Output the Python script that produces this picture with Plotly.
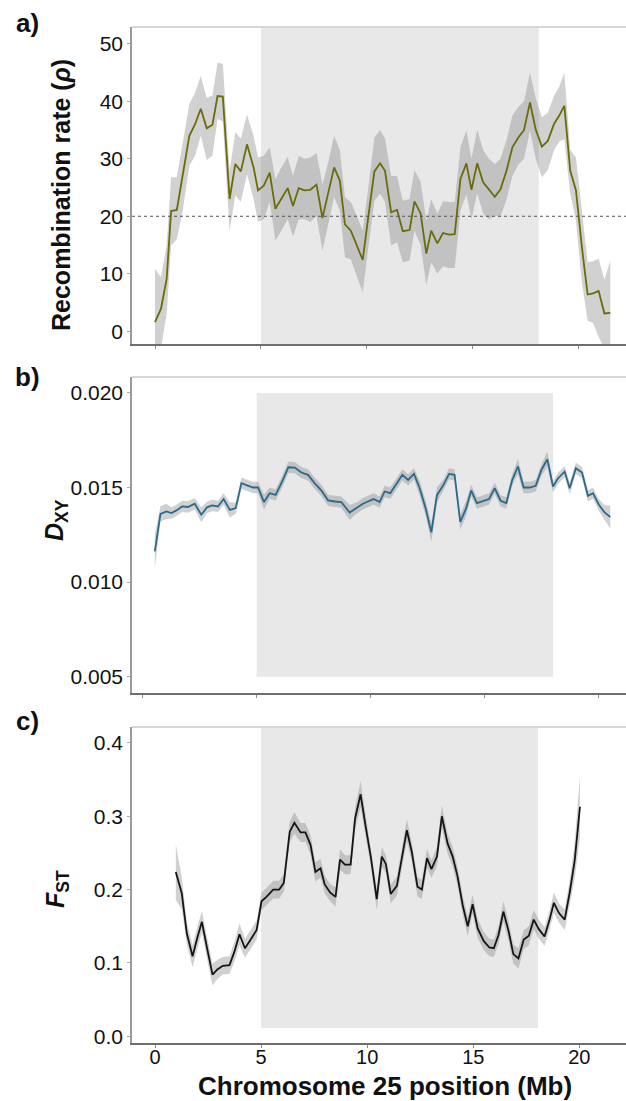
import plotly.graph_objects as go

# ---------------- data ----------------
# Panel a: recombination rate (rho)
pos_a = [0.00,0.28,0.55,0.76,1.03,1.31,1.62,1.89,2.16,2.44,
         2.71,2.95,3.20,3.52,3.79,4.05,4.34,4.65,4.86,5.13,
         5.41,5.68,5.96,6.26,6.51,6.78,7.05,7.33,7.62,7.90,
         8.18,8.45,8.72,8.96,9.24,9.53,9.80,10.08,10.35,10.62,
         10.85,11.14,11.42,11.69,12.01,12.24,12.53,12.80,13.03,13.32,
         13.59,13.87,14.14,14.41,14.69,14.93,15.20,15.48,15.75,16.03,
         16.30,16.59,16.86,17.14,17.41,17.69,17.96,18.25,18.53,18.83,
         19.07,19.31,19.59,19.86,20.14,20.41,20.66,20.93,21.20,21.48]
rho = [1.6,3.9,9.1,20.9,21.1,27.0,34.0,36.0,38.7,35.3,
       35.9,40.9,40.8,23.0,29.1,27.8,32.5,28.5,24.5,25.3,
       27.6,21.3,23.0,24.9,21.8,24.9,24.5,24.6,25.5,19.7,
       24.2,28.5,26.2,18.6,17.5,14.9,12.4,20.4,27.8,29.2,
       27.9,20.7,21.1,17.4,17.6,22.6,20.5,13.5,17.5,15.3,
       17.1,16.8,16.9,26.5,29.2,24.6,29.2,25.9,24.7,23.4,
       24.7,28.0,32.0,33.7,35.0,39.8,35.1,32.1,33.1,36.1,
       37.5,39.2,27.9,24.5,14.6,6.4,6.6,7.0,3.1,3.2]
rho_hi = [10.9,9.4,15.0,26.8,26.8,33.0,39.5,41.5,44.4,40.6,
          41.0,46.7,46.5,27.9,34.6,33.5,37.7,34.0,30.2,30.5,
          32.0,26.5,28.5,30.3,27.0,30.5,30.0,30.2,31.0,25.5,
          29.5,34.0,31.5,23.3,22.5,20.0,17.5,25.5,33.7,35.0,
          33.5,27.0,27.0,22.7,23.0,28.0,26.0,19.2,23.0,20.5,
          22.6,22.5,22.5,32.0,34.9,30.0,35.1,31.5,30.0,29.1,
          30.0,33.3,37.5,39.0,40.0,45.0,40.5,37.2,38.0,41.0,
          42.5,45.0,31.5,30.2,21.0,12.0,12.2,12.6,9.0,12.3]
rho_lo = [-3.0,-3.0,3.0,14.9,16.0,21.0,28.8,30.5,34.0,29.8,
          30.5,36.9,36.5,17.5,23.6,22.5,27.3,23.0,19.0,19.5,
          22.5,15.8,17.5,19.5,16.5,19.5,19.5,19.0,20.0,14.0,
          19.0,23.3,21.0,12.9,12.5,9.5,6.8,15.0,22.7,23.9,
          22.5,14.9,15.5,12.0,12.3,17.5,15.0,8.0,12.0,10.0,
          11.3,11.0,11.0,21.0,23.8,19.5,24.0,20.5,19.5,20.1,
          20.0,23.0,27.0,29.0,30.0,34.9,30.0,26.8,28.0,31.5,
          33.0,33.4,24.0,19.2,8.5,1.8,1.5,-1.0,-3.0,-3.0]

# Panel b: DXY
pos_b = [0.53,0.78,1.04,1.26,1.48,1.73,1.99,2.28,2.57,2.82,
         3.04,3.30,3.55,3.82,4.08,4.33,4.58,4.84,5.06,5.32,
         5.57,5.83,6.12,6.39,6.67,6.96,7.25,7.54,7.84,8.13,
         8.43,8.71,9.08,9.37,9.66,9.88,10.13,10.39,10.61,10.86,
         11.13,11.39,11.64,11.90,12.15,12.41,12.66,12.91,13.17,13.44,
         13.68,13.93,14.19,14.41,14.66,14.93,15.19,15.44,15.70,15.95,
         16.20,16.46,16.71,16.97,17.24,17.49,17.75,18.00,18.22,18.51,
         18.73,19.00,19.27,19.53,19.75,20.01,20.26,20.51]
dxy = [0.01163,0.01361,0.01374,0.01365,0.01379,0.01400,0.01397,0.01414,0.01356,0.01395,
       0.01405,0.01400,0.01439,0.01382,0.01391,0.01523,0.01511,0.01500,0.01500,0.01423,
       0.01470,0.01461,0.01532,0.01607,0.01605,0.01579,0.01567,0.01523,0.01484,0.01432,
       0.01426,0.01423,0.01368,0.01391,0.01414,0.01426,0.01439,0.01423,0.01479,0.01470,
       0.01519,0.01567,0.01540,0.01572,0.01496,0.01391,0.01263,0.01461,0.01509,0.01572,
       0.01567,0.01318,0.01391,0.01484,0.01418,0.01430,0.01439,0.01496,0.01430,0.01418,
       0.01537,0.01611,0.01500,0.01500,0.01509,0.01593,0.01649,0.01505,0.01549,0.01584,
       0.01496,0.01602,0.01579,0.01456,0.01470,0.01409,0.01368,0.01344]
dxy_err = [0.0009,0.0004,0.0004,0.0003,0.0003,0.0003,0.0003,0.0003,0.0004,0.0003,
           0.0003,0.0003,0.0003,0.0004,0.0003,0.0003,0.0003,0.0003,0.0003,0.0004,
           0.0003,0.0003,0.0003,0.0003,0.0003,0.0003,0.0003,0.0003,0.0003,0.0003,
           0.0003,0.0003,0.0004,0.0003,0.0003,0.0003,0.0003,0.0003,0.0003,0.0003,
           0.0003,0.0003,0.0003,0.0003,0.0004,0.0004,0.0005,0.0004,0.0003,0.0003,
           0.0003,0.0004,0.0004,0.0003,0.0003,0.0003,0.0003,0.0003,0.0003,0.0003,
           0.0003,0.0004,0.0003,0.0003,0.0003,0.0003,0.0004,0.0003,0.0003,0.0003,
           0.0003,0.0003,0.0003,0.0003,0.0003,0.0003,0.0004,0.0006]

# Panel c: FST
pos_c = [0.98,1.26,1.50,1.77,2.00,2.21,2.44,2.71,2.94,3.19,
         3.51,3.74,3.98,4.24,4.51,4.79,5.02,5.25,5.57,5.85,
         6.07,6.35,6.57,6.86,7.09,7.33,7.56,7.80,8.00,8.25,
         8.51,8.72,8.95,9.22,9.43,9.69,9.93,10.17,10.45,10.69,
         10.88,11.11,11.40,11.62,11.87,12.10,12.37,12.58,12.82,13.03,
         13.29,13.52,13.79,14.03,14.26,14.50,14.74,14.97,15.21,15.49,
         15.76,15.97,16.19,16.42,16.66,16.89,17.13,17.38,17.62,17.85,
         18.09,18.36,18.59,18.80,19.04,19.31,19.54,19.78,20.03]
fst = [0.224,0.195,0.140,0.109,0.135,0.156,0.122,0.084,0.091,0.096,
       0.097,0.115,0.139,0.120,0.132,0.145,0.184,0.190,0.200,0.200,
       0.209,0.279,0.291,0.278,0.278,0.261,0.224,0.229,0.207,0.196,
       0.190,0.241,0.234,0.234,0.297,0.330,0.286,0.245,0.187,0.245,
       0.235,0.194,0.205,0.241,0.281,0.252,0.204,0.200,0.243,0.228,
       0.245,0.300,0.263,0.245,0.218,0.179,0.150,0.180,0.147,0.130,
       0.121,0.120,0.138,0.170,0.144,0.112,0.106,0.132,0.137,0.159,
       0.146,0.136,0.158,0.182,0.168,0.159,0.195,0.239,0.313]
fst_err = [0.038,0.022,0.015,0.015,0.015,0.015,0.015,0.015,0.013,0.012,
           0.012,0.013,0.015,0.013,0.013,0.013,0.012,0.012,0.012,0.012,
           0.012,0.014,0.015,0.013,0.013,0.013,0.013,0.013,0.012,0.012,
           0.013,0.014,0.013,0.013,0.015,0.018,0.015,0.013,0.015,0.013,
           0.012,0.013,0.013,0.013,0.015,0.013,0.013,0.013,0.013,0.012,
           0.013,0.015,0.014,0.013,0.013,0.013,0.013,0.013,0.013,0.012,
           0.012,0.012,0.012,0.014,0.013,0.013,0.014,0.013,0.013,0.013,
           0.013,0.013,0.013,0.014,0.013,0.014,0.016,0.025,0.042]

x_ticks = [0, 5, 10, 15, 20]
ticks_a = [0, 10, 20, 30, 40, 50]
ticks_b = [0.005, 0.010, 0.015, 0.020]
ticklabels_b = ["0.005", "0.010", "0.015", "0.020"]
ticks_c = [0.0, 0.1, 0.2, 0.3, 0.4]
ticklabels_c = ["0.0", "0.1", "0.2", "0.3", "0.4"]
region_a = (5.0, 18.1)
region_b = (5.0, 18.0)
region_c = (5.0, 18.05)
rho_threshold = 20

# ---------------- figure ----------------
FONT = "Liberation Sans, Arial, Helvetica, sans-serif"
BAND = "rgba(128,128,128,0.36)"
fig = go.Figure()

def band(x, hi, lo, xa, ya):
    fig.add_trace(go.Scatter(x=list(x) + list(x)[::-1], y=list(hi) + list(lo)[::-1],
                             fill="toself", fillcolor=BAND, line=dict(width=0),
                             mode="lines", hoverinfo="skip", showlegend=False,
                             xaxis=xa, yaxis=ya))

def line(x, y, color, xa, ya):
    fig.add_trace(go.Scatter(x=x, y=y, mode="lines", line=dict(color=color, width=1.8),
                             showlegend=False, xaxis=xa, yaxis=ya))

band(pos_a, rho_hi, rho_lo, "x", "y")
line(pos_a, rho, "#6b6b08", "x", "y")

b_hi = [v + e for v, e in zip(dxy, dxy_err)]
b_lo = [v - e for v, e in zip(dxy, dxy_err)]
band(pos_b, b_hi, b_lo, "x2", "y2")
line(pos_b, dxy, "#2a6a8c", "x2", "y2")

c_hi = [v + e for v, e in zip(fst, fst_err)]
c_lo = [v - e for v, e in zip(fst, fst_err)]
band(pos_c, c_hi, c_lo, "x3", "y3")
line(pos_c, fst, "#151515", "x3", "y3")

W, H = 626, 1101
ML, MR, MT, MB = 132, 0, 27, 58
PW, PH = W - ML - MR, H - MT - MB

def py(pix):
    return (H - MB - pix) / PH

def px(pix):
    return (pix - ML) / PW

dom_a = [py(344), py(27)]
dom_b = [py(693), py(377)]
dom_c = [py(1043), py(727)]

tickfont = dict(family=FONT, size=21, color="#111111")

def xaxis(rng, showlabels, anchor):
    return dict(domain=[0, 1], range=rng, anchor=anchor, tickvals=x_ticks,
                showticklabels=showlabels, ticks="outside", ticklen=3, tickcolor="#888888",
                ticklabelstandoff=-8,
                showline=True, linecolor="#6e6e6e", linewidth=1.5, showgrid=False,
                zeroline=False, tickfont=dict(family=FONT, size=20, color="#111111"))

def yaxis(dom, rng, vals, texts, anchor):
    return dict(domain=dom, range=rng, anchor=anchor, tickvals=vals, ticktext=texts,
                ticks="outside", ticklen=3, tickcolor="#aaaaaa",
                showline=True, linecolor="#9a9a9a", linewidth=1.5, showgrid=False,
                zeroline=False, tickfont=tickfont)

fig.update_layout(
    width=W, height=H, margin=dict(l=ML, r=MR, t=MT, b=MB),
    paper_bgcolor="white", plot_bgcolor="white", showlegend=False,
    xaxis=xaxis([-1.085, 22.22], False, "y"),
    yaxis=yaxis(dom_a, [-2.2, 52.9], ticks_a, [str(v) for v in ticks_a], "x"),
    xaxis2=xaxis([-0.47, 21.2], False, "y2"),
    yaxis2=yaxis(dom_b, [0.00414, 0.02084], ticks_b, ticklabels_b, "x2"),
    xaxis3=xaxis([-1.085, 22.2], True, "y3"),
    yaxis3=yaxis(dom_c, [-0.0093, 0.4218], ticks_c, ticklabels_c, "x3"),
)

shapes = []
# shaded regions
shapes.append(dict(type="rect", xref="x", yref="y domain", x0=region_a[0], x1=region_a[1],
                   y0=0, y1=1, fillcolor="#e8e8e8", line=dict(width=0), layer="below"))
shapes.append(dict(type="rect", xref="x2", yref="y2", x0=region_b[0], x1=region_b[1],
                   y0=0.005, y1=0.020, fillcolor="#e8e8e8", line=dict(width=0), layer="below"))
shapes.append(dict(type="rect", xref="x3", yref="y3", x0=region_c[0], x1=region_c[1],
                   y0=0.011, y1=0.4218, fillcolor="#e8e8e8", line=dict(width=0), layer="below"))
# threshold line
shapes.append(dict(type="line", xref="x domain", yref="y", x0=0, x1=1,
                   y0=rho_threshold, y1=rho_threshold,
                   line=dict(color="#555555", width=1, dash="dot")))
# top borders
for ax in ["y", "y2", "y3"]:
    shapes.append(dict(type="line", xref="paper", yref=ax + " domain", x0=0, x1=1, y0=1, y1=1,
                       line=dict(color="#d6d6d6", width=2)))
fig.update_layout(shapes=shapes)

title_font = dict(family=FONT, size=25, color="#111111")
ann = []
for lab, ypix in [("a)", 23), ("b)", 377), ("c)", 721)]:
    ann.append(dict(text="<b>%s</b>" % lab, xref="paper", yref="paper", x=px(27), y=py(ypix),
                    xanchor="center", yanchor="middle", showarrow=False,
                    font=dict(family=FONT, size=26, color="#111111")))
ann.append(dict(text="<b>Recombination rate (<i>ρ</i>)</b>", xref="paper", yref="paper",
                x=px(61), y=py(195), textangle=-90, xanchor="center", yanchor="middle",
                showarrow=False, font=title_font))
ann.append(dict(text="<b><i>D</i><sub>XY</sub></b>", xref="paper", yref="paper",
                x=px(56), y=py(520), textangle=-90, xanchor="center", yanchor="middle",
                showarrow=False, font=title_font))
ann.append(dict(text="<b><i>F</i><sub>ST</sub></b>", xref="paper", yref="paper",
                x=px(57), y=py(889), textangle=-90, xanchor="center", yanchor="middle",
                showarrow=False, font=title_font))
ann.append(dict(text="<b>Chromosome 25 position (Mb)</b>", xref="paper", yref="paper",
                x=px(385), y=py(1086), xanchor="center", yanchor="middle",
                showarrow=False, font=dict(family=FONT, size=26, color="#111111")))
fig.update_layout(annotations=ann)

fig.write_html("out.html", config={"displayModeBar": False},
               post_script="document.body.style.margin='0';document.body.style.overflow='hidden';")
